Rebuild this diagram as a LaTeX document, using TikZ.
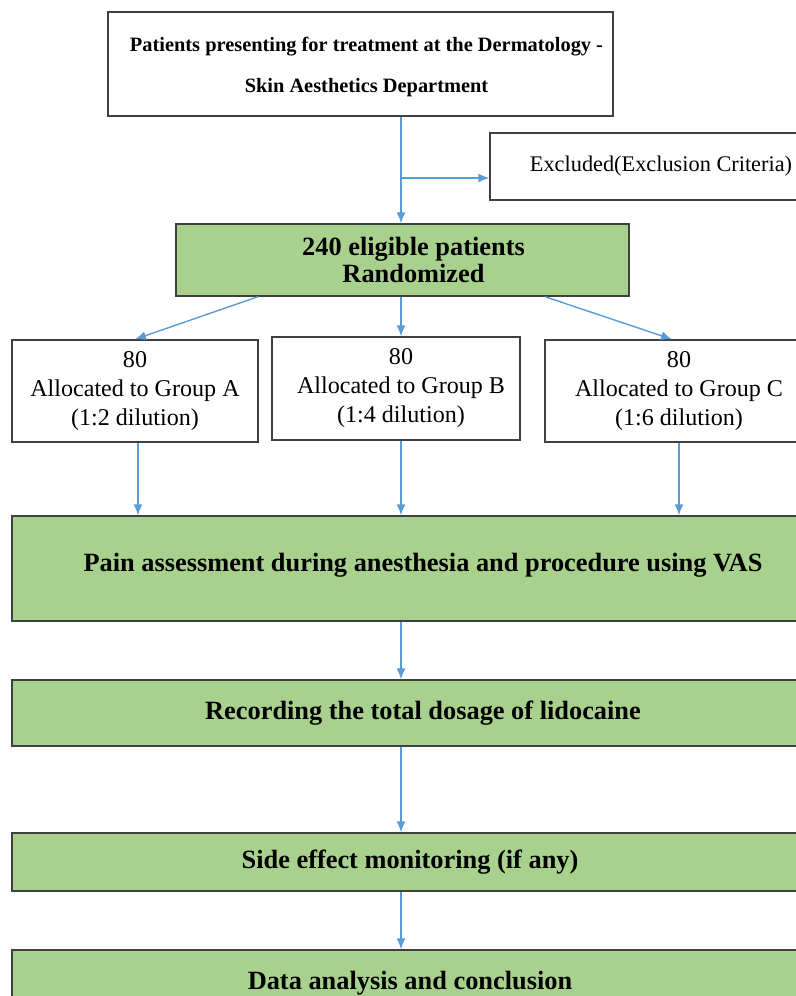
\documentclass[tikz,border=0pt]{standalone}
\usepackage{fontspec}
\setmainfont{Liberation Serif}
\usetikzlibrary{arrows.meta}
\definecolor{boxgreen}{HTML}{A9D18E}
\definecolor{arrowblue}{HTML}{5B9BD5}
\definecolor{edgegray}{HTML}{404040}
\tikzset{
  whitebox/.style={rectangle, draw=edgegray, line width=0.8pt, fill=white, align=center, inner sep=0pt},
  groupbox/.style={whitebox, font=\fontsize{13.7}{16.5}\selectfont},
  greenbox/.style={rectangle, draw=edgegray, line width=0.8pt, fill=boxgreen, align=center, inner sep=0pt, font=\bfseries\fontsize{15}{15.5}\selectfont},
  flow/.style={draw=arrowblue, line width=0.8pt, -{Latex[length=2.2mm,width=1.8mm]}}
}
\begin{document}
\begin{tikzpicture}
\useasboundingbox (0,0) rectangle (15.9,-19.92);
\node[whitebox, minimum width = 10.1cm, minimum height = 2.08cm, font=\bfseries\fontsize{11.6}{23.5}\selectfont](patients) at (7.21,-1.28){\raisebox{-0.06cm}{\begin{tabular}{@{}c@{}}\hspace*{0.24cm}Patients presenting for treatment at the Dermatology -\\\hspace*{0.24cm}Skin Aesthetics Department\end{tabular}}};
\node[whitebox, minimum width = 6.84cm, minimum height = 1.34cm, font=\fontsize{12.7}{14}\selectfont](excl) at (13.22,-3.33){Excluded(Exclusion Criteria)};
\node[greenbox, minimum width = 9.06cm, minimum height = 1.44cm](elig) at (8.05,-5.2){\hspace*{0.44cm}240 eligible patients\\\hspace*{0.44cm}Randomized};

\node[groupbox, minimum width = 4.92cm, minimum height = 2.04cm](grpA) at (2.7,-7.82){80\\Allocated to Group A\\(1:2 dilution)};
\node[groupbox, minimum width = 4.96cm, minimum height = 2.06cm](grpB) at (7.92,-7.77){\hspace*{0.2cm}80\\\hspace*{0.2cm}Allocated to Group B\\\hspace*{0.2cm}(1:4 dilution)};
\node[groupbox, minimum width = 5.36cm, minimum height = 2.04cm](grpC) at (13.58,-7.82){80\\Allocated to Group C\\(1:6 dilution)};

\node[greenbox, minimum width = 16.44cm, minimum height = 2.1cm](pain) at (8.46,-11.37){\raisebox{0.26cm}{Pain assessment during anesthesia and procedure using VAS}};
\node[greenbox, minimum width = 16.44cm, minimum height = 1.32cm](dose) at (8.46,-14.26){Recording the total dosage of lidocaine};
\node[greenbox, minimum width = 15.92cm, minimum height = 1.16cm](side) at (8.2,-17.24){Side effect monitoring (if any)};
\node[greenbox, minimum width = 15.92cm, minimum height = 1.32cm](data) at (8.2,-19.66){Data analysis and conclusion};

\coordinate (split) at (8.02,-3.56);
\draw[draw=arrowblue, line width=0.8pt] (patients.south -| split) -- (split);
\draw[flow] (split) -- (elig.north -| split);
\draw[flow] (split) -- (split -| excl.west);

\draw[flow] ([xshift=-2.89cm]elig.south) -- (grpA.north);
\draw[flow] (elig.south -| split) -- (grpB.north -| split);
\draw[flow] ([xshift=2.85cm]elig.south) -- ([xshift=-0.14cm]grpC.north);

\draw[flow] ([xshift=0.06cm]grpA.south) -- ([xshift=0.06cm]grpA.south |- pain.north);
\draw[flow] (grpB.south -| split) -- (pain.north -| split);
\draw[flow] (grpC.south) -- (grpC.south |- pain.north);

\draw[flow] (pain.south -| split) -- (dose.north -| split);
\draw[flow] (dose.south -| split) -- (side.north -| split);
\draw[flow] (side.south -| split) -- (data.north -| split);
\end{tikzpicture}
\end{document}
